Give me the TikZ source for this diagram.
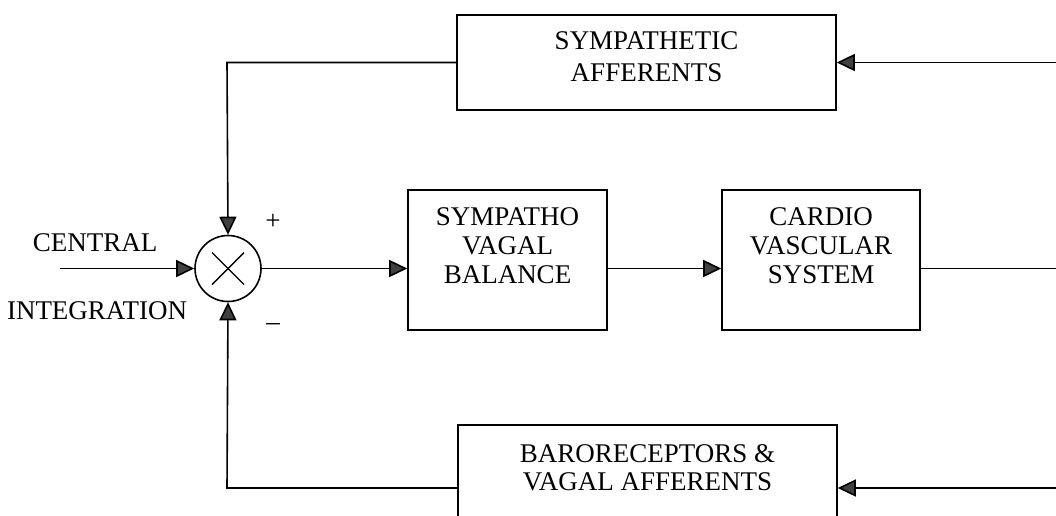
\documentclass[tikz,border=0pt]{standalone}
\usepackage{fontspec}
\setmainfont{Liberation Serif}
\usetikzlibrary{arrows.meta}
\tikzset{
  blk/.style={draw, line width=1.6pt, inner sep=0pt},
  txt/.style={inner sep=0pt, align=center, font=\fontsize{27}{30}\selectfont},
  conn/.style={line width=1.6pt, -{Triangle[length=18pt,width=17pt,fill=black!75]}},
  plain/.style={line width=1.6pt},
}
\begin{document}
\begin{tikzpicture}[x=1pt,y=-1pt]
\useasboundingbox (0,0) rectangle (1056,515);
\clip (0,0) rectangle (1056,515);
% summing junction
\node[draw, circle, line width=1.6pt, minimum size=66pt, inner sep=0pt] (sum) at (228,268.5) {};
\draw[line width=1.4pt] ([shift={(-16,-16)}]sum.center) -- ([shift={(16,16)}]sum.center);
\draw[line width=1.4pt] ([shift={(-16,16)}]sum.center) -- ([shift={(16,-16)}]sum.center);
% blocks
\node[blk, minimum width=379pt, minimum height=95pt] (symaff) at (646.5,62.5) {};
\node[txt, font=\fontsize{27}{32}\selectfont] (symafftxt) at (646.5,57) {SYMPATHETIC\\AFFERENTS};
\node[blk, minimum width=199pt, minimum height=140pt] (svb) at (507.5,260) {};
\node[txt, font=\fontsize{27}{29}\selectfont] (svbtxt) at (507.5,245.5) {SYMPATHO\\VAGAL\\BALANCE};
\node[blk, minimum width=198pt, minimum height=140pt] (cvs) at (821,260) {};
\node[txt, font=\fontsize{27}{29}\selectfont] (cvstxt) at (821,245.5) {CARDIO\\VASCULAR\\SYSTEM};
\node[blk, minimum width=379pt, minimum height=126pt] (baro) at (647.5,488) {};
\node[txt, font=\fontsize{27}{28}\selectfont] (barotxt) at (647.5,467.5) {BARORECEPTORS \&\\VAGAL AFFERENTS};
% labels
\node[txt] (central) at (95,242.5) {CENTRAL};
\node[txt] (integ) at (97,311) {INTEGRATION};
\node[txt] (plus) at (273,222) {+};
\node[txt] (minus) at (273,327) {\textendash};
% free ends
\coordinate (inL) at (60,268.5);
\coordinate (outR) at (1056,268.5);
\coordinate (topR) at (1056,62.5);
\coordinate (botR) at (1056,488);
\coordinate (topL) at (227,62.5);
\coordinate (botL) at (227,488);
% connectors
\draw[conn] (inL) -- (sum.west);
\draw[conn] (sum.east) -- (svb.west |- sum.east);
\draw[conn] (svb.east |- sum.east) -- (cvs.west |- sum.east);
\draw[plain] (cvs.east |- sum.east) -- (outR);
\draw[conn] (topR) -- (symaff.east);
\draw[conn] (symaff.west) -- (topL) -- (sum.north);
\draw[conn] (botR) -- (baro.east);
\draw[conn] (baro.west) -- (botL) -- (sum.south);
\end{tikzpicture}
\end{document}
